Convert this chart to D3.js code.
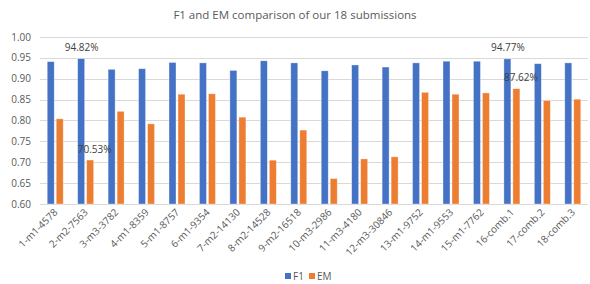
<!DOCTYPE HTML>
<html>
  <head>
    <style>
      body { margin: 0; background: #fff; }
      text { font-family: "Open Sans", "Noto Sans", sans-serif; fill: #595959; }
    </style>
  </head>
  <body>
    <svg width="590" height="284"></svg>
    <script src="https://cdn.jsdelivr.net/npm/d3@7"></script>
    <script>
      var categories = ['1-m1-4578', '2-m2-7563', '3-m3-3782', '4-m1-8359', '5-m1-8757', '6-m1-9354',
        '7-m2-14130', '8-m2-14528', '9-m2-16518', '10-m3-2986', '11-m3-4180', '12-m3-30846',
        '13-m1-9752', '14-m1-9553', '15-m1-7762', '16-comb.1', '17-comb.2', '18-comb.3'];
      var f1 = [0.941, 0.9482, 0.9226, 0.924, 0.939, 0.938, 0.920, 0.943, 0.938,
        0.919, 0.933, 0.928, 0.938, 0.942, 0.942, 0.9477, 0.936, 0.938];
      var em = [0.804, 0.7053, 0.822, 0.792, 0.863, 0.864, 0.808, 0.705, 0.777,
        0.661, 0.708, 0.713, 0.8675, 0.863, 0.866, 0.8762, 0.848, 0.851];
      var yTicks = [0.60, 0.65, 0.70, 0.75, 0.80, 0.85, 0.90, 0.95, 1.00];
      // only a few bars carry a data label
      var labels = [{ series: 'F1', i: 1 }, { series: 'EM', i: 1 }, { series: 'F1', i: 15 }, { series: 'EM', i: 15 }];

      var svg = d3.select('svg');
      var plotLeft = 40, plotRight = 588, plotTop = 37, plotBottom = 204;

      var x = d3.scaleBand().domain(categories).range([plotLeft, plotRight]);
      var y = d3.scaleLinear().domain([0.6, 1.0]).range([plotBottom, plotTop]);
      var colors = { F1: '#4472C4', EM: '#ED7D31' };
      var barW = 7;

      // title
      svg.append('text')
        .attr('x', 295).attr('y', 19)
        .attr('text-anchor', 'middle')
        .style('font-size', '11.5px')
        .text('F1 and EM comparison of our 18 submissions');

      // grid
      svg.selectAll('.grid')
          .data(yTicks)
        .enter().append('line')
          .attr('x1', plotLeft).attr('x2', plotRight)
          .attr('y1', function(d) { return Math.round(y(d)) + 0.5; })
          .attr('y2', function(d) { return Math.round(y(d)) + 0.5; })
          .attr('stroke', '#d9d9d9')
          .attr('stroke-width', 1);

      svg.selectAll('.ytick')
          .data(yTicks)
        .enter().append('text')
          .attr('x', 31)
          .attr('y', function(d) { return y(d); })
          .attr('dy', '0.35em')
          .attr('text-anchor', 'end')
          .style('font-size', '10px')
          .text(function(d) { return d.toFixed(2); });

      // bars
      function drawBars(values, name, offset) {
        svg.selectAll('.bar-' + name)
            .data(values)
          .enter().append('rect')
            .attr('x', function(d, i) { return x(categories[i]) + x.bandwidth() / 2 + offset; })
            .attr('y', function(d) { return y(d); })
            .attr('width', barW)
            .attr('height', function(d) { return y(0.6) - y(d); })
            .attr('fill', colors[name])
            .attr('stroke', '#fff')
            .attr('stroke-opacity', 0.5)
            .attr('stroke-width', 0.7);
      }
      drawBars(f1, 'F1', -barW - 1);
      drawBars(em, 'EM', 1);

      // data labels
      svg.selectAll('.dlabel')
          .data(labels)
        .enter().append('text')
          .attr('x', function(d) {
            var c = x(categories[d.i]) + x.bandwidth() / 2;
            return d.series === 'F1' ? c - 4 : c + 9;
          })
          .attr('y', function(d) {
            var v = d.series === 'F1' ? f1[d.i] : em[d.i];
            return y(v) - 11;
          })
          .attr('dy', '0.35em')
          .attr('text-anchor', 'middle')
          .style('font-size', '10px')
          .style('fill', '#404040')
          .text(function(d) {
            var v = d.series === 'F1' ? f1[d.i] : em[d.i];
            return (v * 100).toFixed(2) + '%';
          });

      // x labels
      svg.selectAll('.xlabel')
          .data(categories)
        .enter().append('text')
          .attr('transform', function(d) {
            return 'translate(' + (x(d) + x.bandwidth() / 2 + 3) + ',' + 213 + ') rotate(-45)';
          })
          .attr('text-anchor', 'end')
          .style('font-size', '10px')
          .text(function(d) { return d; });

      // legend
      var legend = [{ name: 'F1', x: 285 }, { name: 'EM', x: 309 }];
      var lg = svg.selectAll('.legend')
          .data(legend)
        .enter().append('g')
          .attr('transform', function(d) { return 'translate(' + d.x + ',273)'; });
      lg.append('rect')
        .attr('width', 6).attr('height', 6)
        .attr('fill', function(d) { return colors[d.name]; });
      lg.append('text')
        .attr('x', 8).attr('y', 3)
        .attr('dy', '0.35em')
        .style('font-size', '10px')
        .text(function(d) { return d.name; });
    </script>
  </body>
</html>
